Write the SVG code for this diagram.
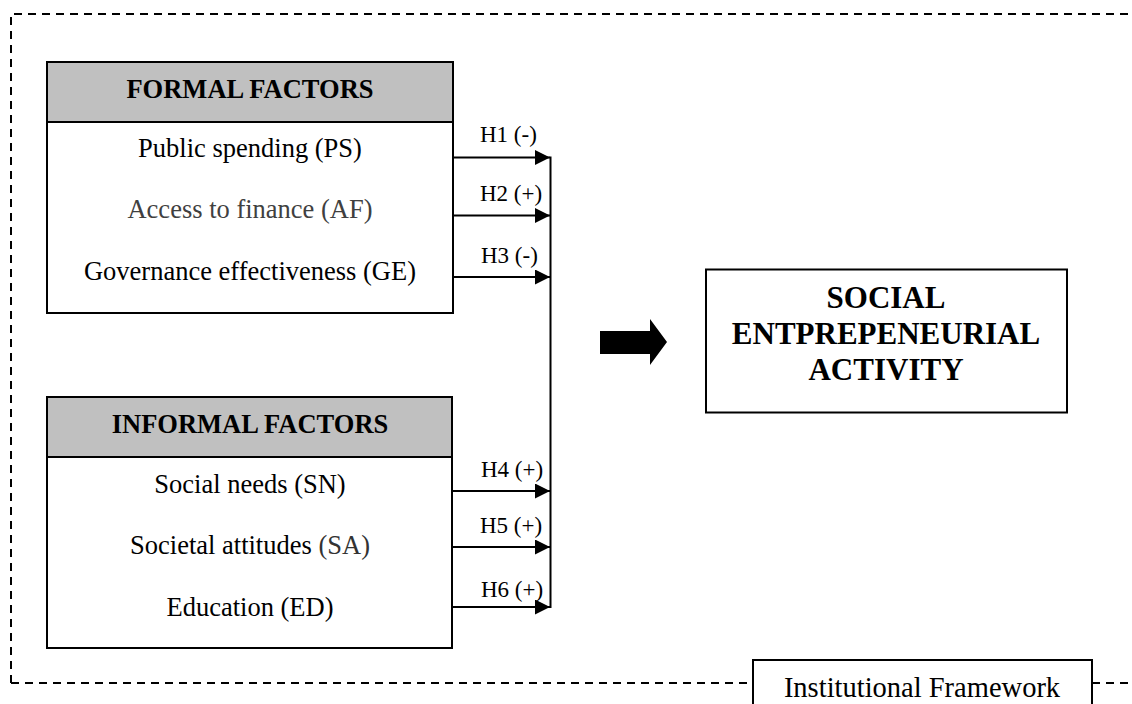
<svg xmlns="http://www.w3.org/2000/svg" width="1132" height="704" viewBox="0 0 1132 704">
<style>
.t{font-family:"Liberation Serif","Times New Roman",serif;fill:#000}
.r{font-size:26.5px;text-anchor:middle}
.b{font-weight:bold;text-anchor:middle}
.h{font-size:23px}
.box{fill:#fff;stroke:#000;stroke-width:2}
.hdr{fill:#c0c0c0;stroke:#000;stroke-width:2}
.dash{fill:none;stroke:#000;stroke-width:2;stroke-dasharray:8 6}
.ln{fill:none;stroke:#000;stroke-width:2}
</style>
<defs>
<marker id="ah" markerWidth="15" markerHeight="15" refX="15" refY="7.5" orient="auto" markerUnits="userSpaceOnUse">
<path d="M0,0 L15,7.5 L0,15 Z" fill="#000"/>
</marker>
</defs>
<rect width="1132" height="704" fill="#fff"/>
<g id="frame">
<path class="dash" d="M11,683 L11,14 L1132,14"/>
<path class="dash" d="M11,683 L753,683"/>
<path class="dash" d="M1092,683 L1132,683"/>
</g>
<g id="formal">
<rect class="box" x="47" y="62" width="406" height="251"/>
<rect class="hdr" x="47" y="62" width="406" height="60"/>
<text class="t b" x="250" y="98" font-size="26.5">FORMAL FACTORS</text>
<text class="t r" x="250" y="157">Public spending (PS)</text>
<text class="t r" x="250" y="218" style="fill:#404040">Access to finance (AF)</text>
<text class="t r" x="250" y="280">Governance effectiveness (GE)</text>
</g>
<g id="informal">
<rect class="box" x="47" y="397" width="405" height="251"/>
<rect class="hdr" x="47" y="397" width="405" height="60"/>
<text class="t b" x="250" y="433" font-size="26.5">INFORMAL FACTORS</text>
<text class="t r" x="250" y="493">Social needs (SN)</text>
<text class="t r" x="250" y="554">Societal attitudes <tspan style="fill:#333">(SA)</tspan></text>
<text class="t r" x="250" y="616">Education (ED)</text>
</g>
<g id="connectors">
<line class="ln" x1="453" y1="157.5" x2="550" y2="157.5" marker-end="url(#ah)"/>
<line class="ln" x1="453" y1="215.5" x2="550" y2="215.5" marker-end="url(#ah)"/>
<line class="ln" x1="453" y1="277" x2="550" y2="277" marker-end="url(#ah)"/>
<line class="ln" x1="452" y1="491" x2="550" y2="491" marker-end="url(#ah)"/>
<line class="ln" x1="452" y1="547" x2="550" y2="547" marker-end="url(#ah)"/>
<line class="ln" x1="452" y1="607" x2="550" y2="607" marker-end="url(#ah)"/>
<line class="ln" x1="550.5" y1="156.5" x2="550.5" y2="608"/>
<text class="t h" x="480" y="142">H1 (-)</text>
<text class="t h" x="480" y="201">H2 (+)</text>
<text class="t h" x="481" y="263">H3 (-)</text>
<text class="t h" x="481" y="477">H4 (+)</text>
<text class="t h" x="480" y="533">H5 (+)</text>
<text class="t h" x="481" y="597">H6 (+)</text>
<path d="M600,331 L650,331 L650,319 L667,342 L650,365 L650,354 L600,354 Z" fill="#000"/>
</g>
<g id="sea">
<rect class="box" x="706" y="269.5" width="361" height="143"/>
<text class="t b" x="886" y="308" font-size="31">SOCIAL</text>
<text class="t b" x="886" y="344" font-size="31">ENTPREPENEURIAL</text>
<text class="t b" x="886" y="380" font-size="31">ACTIVITY</text>
</g>
<g id="institutional">
<rect class="box" x="753" y="660" width="339" height="60"/>
<text class="t" x="922" y="697" font-size="28.5" text-anchor="middle">Institutional Framework</text>
</g>
</svg>
